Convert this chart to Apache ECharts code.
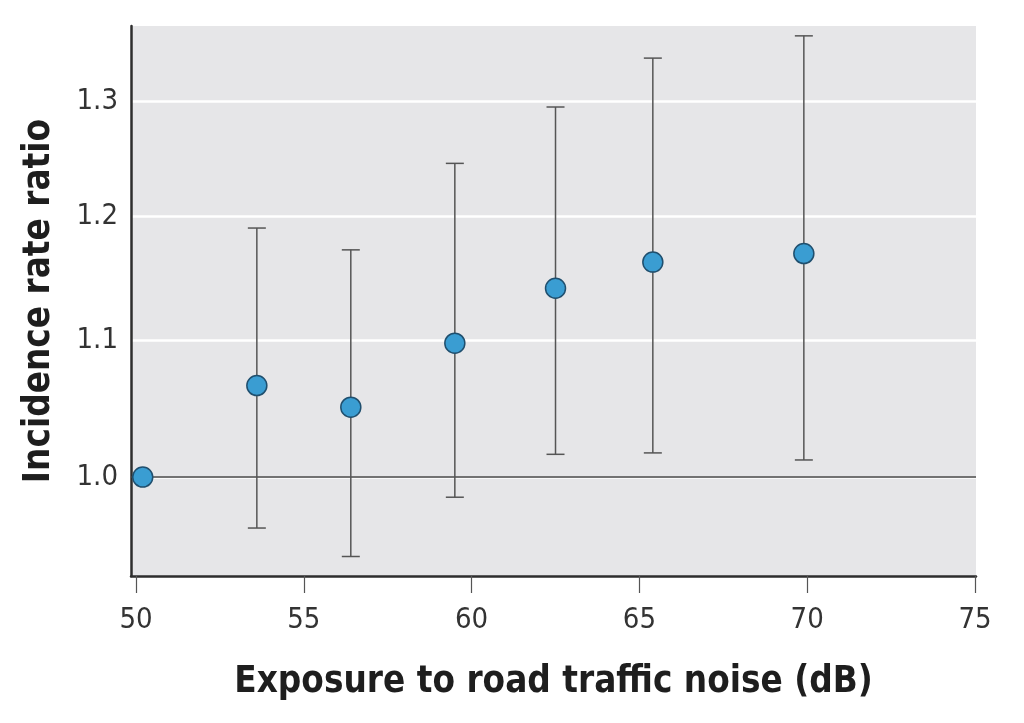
<!DOCTYPE html>
<html>
<head>
<meta charset="utf-8">
<script src="https://cdn.jsdelivr.net/npm/echarts@6/dist/echarts.min.js"></script>
<style>
  html, body { margin: 0; padding: 0; background: #ffffff; }
  #chart { width: 1024px; height: 723px; }
</style>
</head>
<body>
<div id="chart"></div>
<script>
// Exposure categories (dB) and incidence rate ratios with 95% CI
const noiseDb   = [50.2, 53.6, 56.4, 59.5, 62.5, 65.4, 69.9];
const irr       = [1.000, 1.066, 1.050, 1.098, 1.141, 1.162, 1.169];
const ciLower   = [null, 0.965, 0.946, 0.986, 1.016, 1.017, 1.012];
const ciUpper   = [null, 1.190, 1.172, 1.245, 1.295, 1.340, 1.361];
const xTicks    = [50, 55, 60, 65, 70, 75];
const yTicks    = [1.0, 1.1, 1.2, 1.3];
const xTitle    = 'Exposure to road traffic noise (dB)';
const yTitle    = 'Incidence rate ratio';

const FONT = "'Liberation Sans Narrow', 'DejaVu Sans Condensed', 'Arial Narrow', sans-serif";

const pointData = noiseDb.map((x, i) => [x, irr[i]]);
const ciData = noiseDb.map((x, i) => [x, ciLower[i], ciUpper[i]]).filter(d => d[1] != null);

const chart = echarts.init(document.getElementById('chart'), null, { renderer: 'canvas' });

chart.setOption({
  backgroundColor: '#ffffff',
  animation: false,
  grid: {
    left: 131, right: 48, top: 26, bottom: 147,
    show: true, backgroundColor: '#e6e6e8', borderWidth: 0
  },
  xAxis: {
    type: 'value',
    min: 49.85, max: 75.03,
    name: xTitle,
    nameLocation: 'middle',
    nameGap: 88,
    nameTextStyle: { fontFamily: FONT, fontWeight: 'bold', fontSize: 36.5, color: '#1e1e1e' },
    axisLine: { show: true, onZero: false, lineStyle: { color: '#2e2e2e', width: 2.5 } },
    axisTick: { show: true, customValues: xTicks, length: 17, lineStyle: { color: '#555', width: 1.2 } },
    axisLabel: { customValues: xTicks, fontFamily: FONT, fontSize: 29, color: '#333', margin: 30 },
    splitLine: { show: false }
  },
  yAxis: {
    type: 'log',
    logBase: 10,
    min: 0.9332, max: 1.3704,
    name: yTitle,
    nameLocation: 'middle',
    nameRotate: 90,
    nameGap: 73,
    nameTextStyle: { fontFamily: FONT, fontWeight: 'bold', fontSize: 36.5, color: '#1e1e1e' },
    axisLine: { show: true, onZero: false, lineStyle: { color: '#2e2e2e', width: 2.5 } },
    axisTick: { show: false, customValues: yTicks },
    axisLabel: { customValues: yTicks, fontFamily: FONT, fontSize: 29, color: '#333', margin: 13,
      formatter: v => Number(v).toFixed(1) },
    splitLine: { show: true, lineStyle: { color: '#ffffff', width: 2.5 } }
  },
  series: [
    {
      type: 'custom',
      z: 3,
      data: ciData,
      renderItem: function (params, api) {
        const x = api.value(0);
        const lo = api.coord([x, api.value(1)]);
        const hi = api.coord([x, api.value(2)]);
        const hw = 9;
        const style = { stroke: '#555555', lineWidth: 1.5 };
        return {
          type: 'group',
          children: [
            { type: 'line', shape: { x1: lo[0], y1: lo[1], x2: hi[0], y2: hi[1] }, style: style },
            { type: 'line', shape: { x1: hi[0] - hw, y1: hi[1], x2: hi[0] + hw, y2: hi[1] }, style: style },
            { type: 'line', shape: { x1: lo[0] - hw, y1: lo[1], x2: lo[0] + hw, y2: lo[1] }, style: style }
          ]
        };
      }
    },
    {
      type: 'scatter',
      z: 5,
      data: pointData,
      symbol: 'circle',
      symbolSize: 20,
      itemStyle: { color: '#3a9dd2', borderColor: '#1f4f6e', borderWidth: 1.5, opacity: 1 },
      markLine: {
        silent: true,
        symbol: 'none',
        label: { show: false },
        lineStyle: { color: '#444444', width: 1.5, type: 'solid' },
        data: [{ yAxis: 1.0 }],
        z: 2
      }
    }
  ]
});
</script>
</body>
</html>
